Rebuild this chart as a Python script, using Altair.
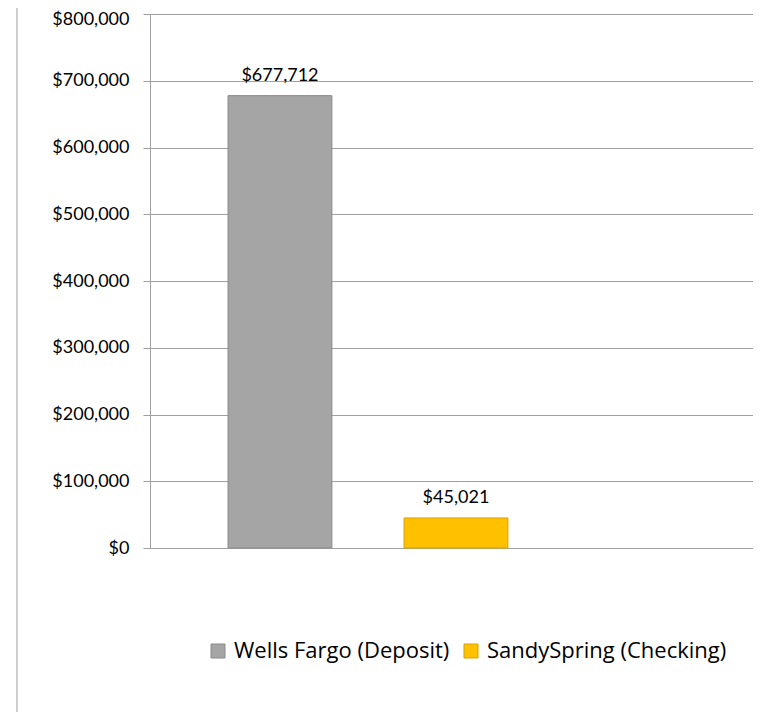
import altair as alt
import pandas as pd

names = ["Wells Fargo (Deposit)", "SandySpring (Checking)"]
values = [677712, 45021]
fills = ["#A5A5A5", "#FFC000"]
strokes = ["#8A8A8A", "#D9A300"]
y_ticks = [0, 100000, 200000, 300000, 400000, 500000, 600000, 700000, 800000]

df = pd.DataFrame({"name": names, "value": values})

FONT = "Lato"

legend = alt.Legend(
    title=None, orient="none", legendX=57, legendY=626, direction="horizontal",
    symbolType="square", symbolSize=196, symbolStrokeWidth=1,
    labelFontSize=22, labelFont="Open Sans", labelColor="#000000", labelLimit=0,
    columnPadding=10, labelOffset=5, padding=0,
)

x = alt.X("name:N", sort=names, axis=None,
          scale=alt.Scale(paddingInner=0.41, paddingOuter=0.918, align=0.2415))
y = alt.Y("value:Q",
          scale=alt.Scale(domain=[0, 800000], nice=False),
          axis=alt.Axis(values=y_ticks, format="$,.0f", title=None,
                        grid=True, gridColor="#A0A0A0", gridWidth=1,
                        domainColor="#A0A0A0", tickColor="#A0A0A0",
                        tickSize=7, labelPadding=14, labelFontSize=18,
                        labelOffset=alt.ExprRef(expr="datum.value >= 800000 ? 5 : 0"),
                        labelFont=FONT, labelColor="#000000"))

bars = alt.Chart(df).mark_bar(strokeWidth=1).encode(
    x=x, y=y,
    fill=alt.Fill("name:N", sort=names,
                  scale=alt.Scale(domain=names, range=fills), legend=legend),
    stroke=alt.Stroke("name:N", sort=names,
                      scale=alt.Scale(domain=names, range=strokes), legend=legend),
)

labels = alt.Chart(df).mark_text(
    baseline="alphabetic", dy=-15, fontSize=18, font=FONT, color="#000000"
).encode(x=x, y=y, text=alt.Text("value:Q", format="$,.0f"))

border = alt.Chart(pd.DataFrame({"a": [0]})).mark_rule(
    color="#BFBFBF", strokeWidth=1.5, clip=False
).encode(x=alt.value(-133), y=alt.value(-14), y2=alt.value(712))

chart = alt.layer(bars, labels, border).properties(
    width=603, height=534,
    autosize=alt.AutoSizeParams(type="none"),
    padding={"left": 142, "top": 6, "right": 0, "bottom": 164},
).configure_view(stroke=None)

chart.save("out.html", embed_options={"renderer": "svg", "actions": False})
